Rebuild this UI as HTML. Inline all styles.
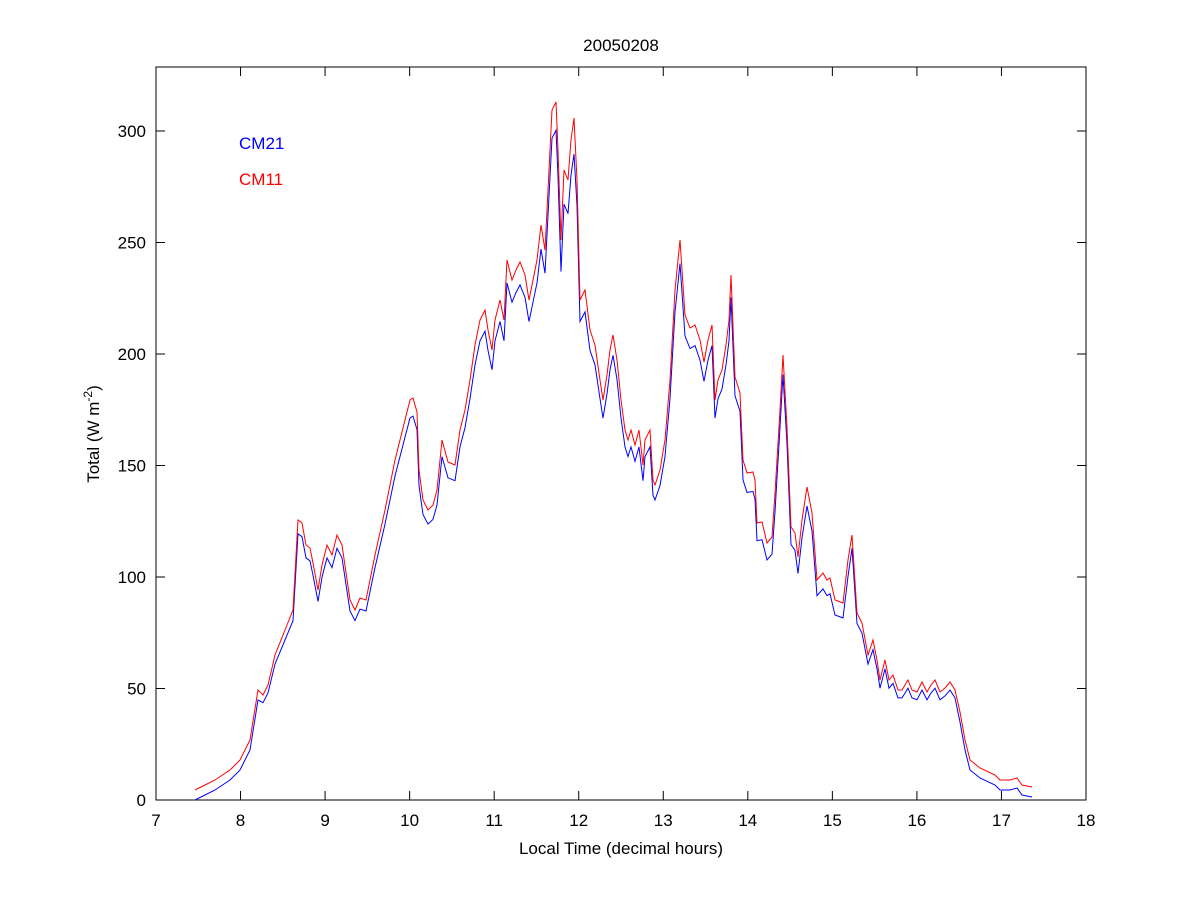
<!DOCTYPE html>
<html><head><style>
body{margin:0;background:#fff;}
svg text{font-family:"Liberation Sans",sans-serif;font-size:17px;fill:#000}
</style></head><body>
<svg id="s" width="1200" height="900" xmlns="http://www.w3.org/2000/svg">
<rect x="0" y="0" width="1200" height="900" fill="#fff"/>
<rect x="156" y="67" width="930" height="733" fill="none" stroke="#000" stroke-width="1"/>
<g id="ticks" stroke="#000" stroke-width="1"></g>
<g id="labels"></g>
<text x="621" y="51" text-anchor="middle">20050208</text>
<text x="621" y="854" text-anchor="middle">Local Time (decimal hours)</text>
<text transform="translate(99,434) rotate(-90)" text-anchor="middle">Total (W m<tspan dy="-7" font-size="12">-2</tspan><tspan dy="7">)</tspan></text>
<text x="239" y="149" style="fill:#0000ff">CM21</text>
<text x="239" y="185" style="fill:#ff0000">CM11</text>
<polyline id="b" fill="none" stroke="#0000ff" stroke-width="1"/>
<polyline id="r" fill="none" stroke="#ff0000" stroke-width="1"/>
</svg>
<script>
var t=document.getElementById('ticks'),l=document.getElementById('labels'),ns='http://www.w3.org/2000/svg';
function ln(x1,y1,x2,y2){var e=document.createElementNS(ns,'line');e.setAttribute('x1',x1);e.setAttribute('y1',y1);e.setAttribute('x2',x2);e.setAttribute('y2',y2);t.appendChild(e);}
function tx(x,y,s,a){var e=document.createElementNS(ns,'text');e.setAttribute('x',x);e.setAttribute('y',y);e.setAttribute('text-anchor',a);e.textContent=s;l.appendChild(e);}
for(var h=7;h<=18;h++){var x=156+(h-7)*930/11;ln(x,800,x,791);ln(x,67,x,76);tx(x,826,h,'middle');}
for(var v=0;v<=300;v+=50){var y=800-v*669/300;ln(156,y,165,y);ln(1086,y,1077,y);tx(146,y+6,v,'end');}
var p=[[195,790],[215,780],[230,770],[240,760],[250,740],[258,690],[263,695],[268,685],[275,655],[285,630],[293,610],[298,520],[302,523],[306,545],[310,548],[313,563],[318,590],[322,565],[327,545],[332,555],[337,535],[342,545],[350,600],[355,610],[360,598],[366,600],[375,555],[385,510],[395,460],[405,420],[410,400],[413,398],[417,412],[419,470],[423,500],[428,510],[433,505],[437,490],[442,440],[448,462],[455,465],[460,430],[465,410],[470,380],[475,345],[480,320],[485,310],[488,330],[492,350],[495,320],[500,300],[504,320],[507,260],[512,280],[516,270],[520,262],[525,275],[529,300],[533,280],[537,260],[541,225],[545,250],[549,170],[552,110],[556,102],[558,150],[561,240],[564,170],[568,180],[571,140],[574,118],[577,180],[580,300],[585,290],[590,330],[595,345],[600,380],[603,400],[607,375],[610,350],[613,335],[617,360],[621,400],[625,430],[628,440],[631,430],[635,445],[639,430],[643,465],[645,440],[650,430],[653,480],[655,485],[660,470],[665,440],[670,380],[675,290],[680,240],[685,315],[690,328],[695,325],[700,340],[704,362],[708,340],[712,325],[715,400],[718,380],[722,370],[726,345],[729,320],[731,275],[735,377],[740,393],[743,460],[747,473],[753,472],[755,480],[757,523],[762,522],[767,543],[772,537],[775,493],[780,410],[783,355],[787,427],[791,527],[795,533],[798,557],[802,520],[807,487],[812,513],[817,580],[823,573],[827,580],[830,578],[835,600],[843,603],[848,560],[852,535],[857,613],[862,623],[868,655],[873,640],[877,660],[880,680],[885,660],[889,680],[893,675],[898,690],[902,690],[908,680],[912,690],[917,692],[922,682],[927,692],[931,685],[935,680],[940,692],[945,688],[950,682],[955,690],[960,712],[965,740],[970,760],[980,768],[995,775],[1000,780],[1010,780],[1017,778],[1022,785],[1032,787]];
var rs=p.map(function(q){return q.join(',')}).join(' ');
var bs=p.map(function(q){var x=q[0],y=q[1],d=4+0.035*(800-y);if(x<262||x>955)d=10;if(x>560&&x<575)d+=8;if(x>740&&x<850&&y>450)d+=4;return x+','+Math.min(800,y+d).toFixed(1)}).join(' ');
document.getElementById('r').setAttribute('points',rs);
document.getElementById('b').setAttribute('points',bs);
</script>
</body></html>
